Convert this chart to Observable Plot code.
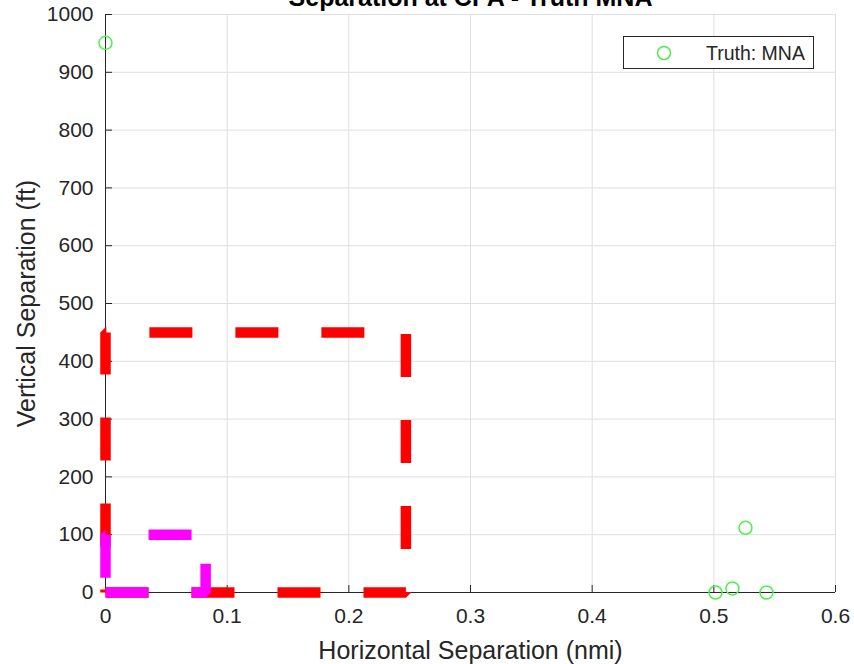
<!DOCTYPE html>
<html>
<head>
<meta charset="utf-8">
<script src="https://cdn.jsdelivr.net/npm/d3@7"></script>
<script src="https://cdn.jsdelivr.net/npm/@observablehq/plot@0.6"></script>
<style>
  html, body { margin: 0; padding: 0; background: #fff; }
  #chart { width: 854px; height: 664px; overflow: hidden; }
</style>
</head>
<body>
<div id="chart"></div>
<script>
// ---- data ----
const chartTitle = "Separation at CPA - Truth MNA";
const xLabel = "Horizontal Separation (nmi)";
const yLabel = "Vertical Separation (ft)";
const legendLabel = "Truth: MNA";

const xTicks = [0, 0.1, 0.2, 0.3, 0.4, 0.5, 0.6];
const xTickLabels = ["0", "0.1", "0.2", "0.3", "0.4", "0.5", "0.6"];
const yTicks = [0, 100, 200, 300, 400, 500, 600, 700, 800, 900, 1000];
const yTickLabels = ["0", "100", "200", "300", "400", "500", "600", "700", "800", "900", "1000"];

// Truth: MNA points
const horizSep = [0, 0.5014, 0.5153, 0.526, 0.5433];
const vertSep = [951, 0, 7, 112, 0];

// NMAC-like boxes (1500 ft x 450 ft, 500 ft x 100 ft)
const redBoxX = [0, 0.2469, 0.2469, 0, 0];
const redBoxY = [0, 0, 450, 450, 0];
const magBoxX = [0, 0.0823, 0.0823, 0, 0];
const magBoxY = [0, 0, 100, 100, 0];

// ---- build tables ----
const points = horizSep.map((x, i) => ({x, y: vertSep[i]}));
const redBox = redBoxX.map((x, i) => ({x, y: redBoxY[i]}));
const magBox = magBoxX.map((x, i) => ({x, y: magBoxY[i]}));

const FONT = "'Liberation Sans', Arial, Helvetica, sans-serif";
const AX = "#262626";
const GRID = "#dfdfdf";
const GREEN = "#4ef04e";

const plot = Plot.plot({
  width: 854,
  height: 664,
  marginLeft: 105,
  marginRight: 19,
  marginTop: 14,
  marginBottom: 72,
  x: {domain: [0, 0.6], axis: null},
  y: {domain: [0, 1000], axis: null},
  style: {fontFamily: FONT, color: AX, background: "white", overflow: "visible"},
  marks: [
    Plot.gridX(xTicks.slice(1), {stroke: GRID, strokeOpacity: 1}),
    Plot.gridY(yTicks.slice(1), {stroke: GRID, strokeOpacity: 1}),
    Plot.ruleX([0], {stroke: AX, strokeWidth: 1}),
    Plot.ruleY([0], {stroke: AX, strokeWidth: 1}),
    // inward ticks
    Plot.ruleX(xTicks, {x: d => d, insetTop: 571, stroke: AX}),
    Plot.ruleY(yTicks, {y: d => d, insetRight: 723, stroke: AX}),
    // tick labels
    Plot.text(xTicks, {x: d => d, text: (d, i) => xTickLabels[i], frameAnchor: "bottom", dy: 16, lineAnchor: "top", fontSize: 21, fill: AX}),
    Plot.text(yTicks, {y: d => d, text: (d, i) => yTickLabels[i], frameAnchor: "left", dx: -12, textAnchor: "end", fontSize: 21, fill: AX}),
    // axis labels and title
    Plot.text([xLabel], {frameAnchor: "bottom", dy: 66, lineAnchor: "bottom", textAnchor: "middle", fontSize: 25, fill: AX}),
    Plot.text([yLabel], {frameAnchor: "left", dx: -79, rotate: -90, lineAnchor: "middle", textAnchor: "middle", fontSize: 25, fill: AX}),
    Plot.text([chartTitle], {frameAnchor: "top", dy: -9, lineAnchor: "bottom", textAnchor: "middle", fontSize: 25, fontWeight: "bold", fill: "#000"}),
    // boxes
    Plot.line(redBox, {x: "x", y: "y", stroke: "#ff0000", strokeWidth: 10.5, strokeDasharray: "43,43", strokeLinejoin: "miter", strokeLinecap: "butt"}),
    Plot.line(magBox, {x: "x", y: "y", stroke: "#ff00ff", strokeWidth: 10.5, strokeDasharray: "43,43", strokeLinejoin: "miter", strokeLinecap: "butt"}),
    // points
    Plot.dot(points, {x: "x", y: "y", r: 6.5, stroke: GREEN, strokeWidth: 1.5, fill: "none"})
  ]
});

// legend (inside the axes, top right)
const svg = d3.select(plot);
const lg = svg.append("g").attr("class", "legend").attr("text-anchor", "start");
lg.append("rect").attr("x", 623.5).attr("y", 36.5).attr("width", 190).attr("height", 32)
  .attr("fill", "white").attr("stroke", AX).attr("stroke-width", 1);
lg.append("circle").attr("cx", 664).attr("cy", 53).attr("r", 6.5)
  .attr("fill", "none").attr("stroke", GREEN).attr("stroke-width", 1.5);
lg.append("text").attr("x", 706).attr("y", 53).attr("dy", "0.35em").attr("text-anchor", "start")
  .attr("font-family", FONT).attr("font-size", 19.5).attr("fill", AX).text(legendLabel);

document.getElementById("chart").appendChild(plot);
</script>
</body>
</html>
